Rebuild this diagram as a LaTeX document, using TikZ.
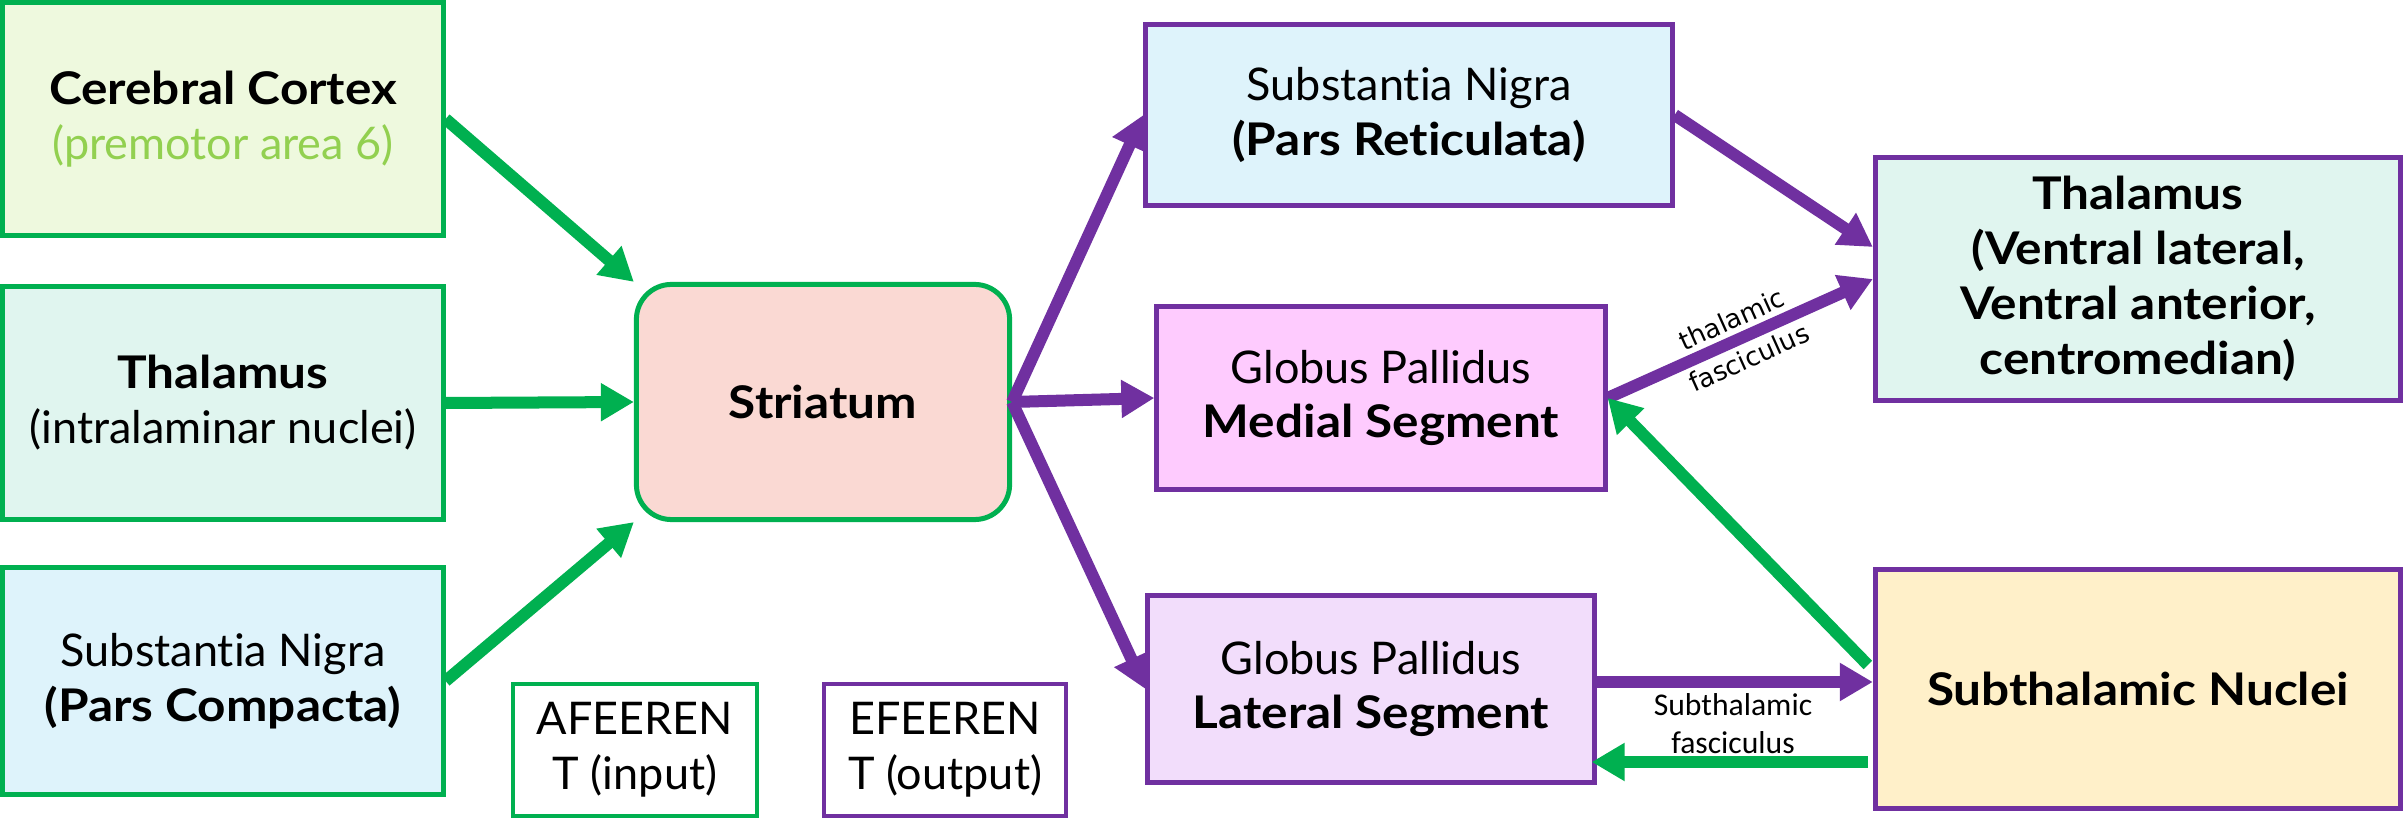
\documentclass[tikz,border=0pt]{standalone}
\usepackage{fontspec}
\setmainfont{Lato}[Ligatures=NoCommon, BoldFeatures={FakeStretch=1.1}]
\newfontfamily\dvs{DejaVu Sans}
\newfontfamily\carl{Carlito}
\usetikzlibrary{arrows.meta,calc}
\definecolor{gn}{HTML}{00B050}
\definecolor{pp}{HTML}{7030A0}
\definecolor{lg}{HTML}{92D050}
\definecolor{fctx}{HTML}{EEF9DE}
\definecolor{fthl}{HTML}{E0F5EF}
\definecolor{fsn}{HTML}{DEF3FB}
\definecolor{fstr}{HTML}{FAD9D3}
\definecolor{fgpm}{HTML}{FECBFE}
\definecolor{fgpl}{HTML}{F2DDFB}
\definecolor{fstn}{HTML}{FFF0C9}
\begin{document}
\begin{tikzpicture}[x=0.01cm,y=-0.01cm,
  box/.style={draw, line width=0.05cm, rectangle, inner sep=0pt, align=center,
    font=\fontsize{12.8}{15.6}\selectfont, text=black},
  gbox/.style={box, draw=gn},
  pbox/.style={box, draw=pp},
  garrow/.style={draw=gn, line width=0.12cm, -{Triangle[length=0.33cm,width=0.36cm]}},
  parrow/.style={draw=pp, line width=0.12cm, -{Triangle[length=0.33cm,width=0.36cm]}},
  lbl/.style={inner sep=1pt, align=center, text=black}
]
\useasboundingbox (0,0) rectangle (2405,822);
\fill[white] (0,0) rectangle (2405,822);

% left column (afferent)
\node[gbox, fill=fctx, minimum width=4.40cm, minimum height=2.32cm] (ctx) at (223,119)
  {\textbf{Cerebral Cortex}\\{\color{lg}(premotor area 6)}};
\node[gbox, fill=fthl, minimum width=4.40cm, minimum height=2.32cm] (thl) at (223,403)
  {\textbf{Thalamus}\\(intralaminar nuclei)};
\node[gbox, fill=fsn, minimum width=4.40cm, minimum height=2.27cm] (snc) at (223,681)
  {Substantia Nigra\\\textbf{(Pars Compacta)}};

% striatum
\node[gbox, fill=fstr, rounded corners=0.35cm, minimum width=3.73cm, minimum height=2.35cm] (str) at (823,402)
  {\textbf{Striatum}};

% legend
\node[gbox, line width=0.04cm, fill=white, minimum width=2.43cm, minimum height=1.31cm] (afr) at (635,750)
  {AFEEREN\\T (input)};
\node[pbox, line width=0.04cm, fill=white, minimum width=2.41cm, minimum height=1.31cm] (efr) at (945,750)
  {EFEEREN\\T (output)};

% middle column (efferent)
\node[pbox, fill=fsn, minimum width=5.26cm, minimum height=1.80cm] (snr) at (1409,115)
  {Substantia Nigra\\\textbf{(Pars Reticulata)}};
\node[pbox, fill=fgpm, minimum width=4.48cm, minimum height=1.83cm] (gpm) at (1381,398)
  {Globus Pallidus\\\textbf{Medial Segment}};
\node[pbox, fill=fgpl, minimum width=4.46cm, minimum height=1.87cm] (gpl) at (1371,689)
  {Globus Pallidus\\\textbf{Lateral Segment}};

% right column
\node[pbox, fill=fthl, minimum width=5.25cm, minimum height=2.43cm] (thr) at (2138,279)
  {\textbf{Thalamus}\\\textbf{(Ventral lateral,}\\\textbf{Ventral anterior,}\\\textbf{centromedian)}};
\node[pbox, fill=fstn, minimum width=5.25cm, minimum height=2.38cm] (stn) at (2138,689)
  {\textbf{Subthalamic Nuclei}};

% afferent arrows
\draw[garrow] (ctx.east) -- (str.north west);
\draw[garrow] (thl.east) -- (str.west);
\draw[garrow] (snc.east) -- (str.south west);

% efferent arrows
\draw[parrow] (str.east) -- (snr.west);
\draw[parrow] (str.east) -- (gpm.west);
\draw[parrow] (str.east) -- (gpl.west);
\draw[parrow] (snr.east) -- ($(thr.west)+(0,-32)$);
\draw[parrow] (gpm.east) -- node[lbl, sloped, pos=0.5, font=\dvs\fontsize{7.4}{12}\selectfont] {thalamic\\fasciculus} (thr.west);
\draw[garrow] ($(stn.west)+(-5,-24)$) -- (gpm.east);
\draw[parrow] ($(gpl.east)+(0,-7)$) -- ($(stn.west)+(0,-7)$);
\draw[garrow] ($(stn.west)+(-5,73)$) -- ($(gpl.east)+(-5,73)$);
\node[lbl, font=\carl\fontsize{9}{10.8}\selectfont] (sfl) at (1733,724) {Subthalamic\\fasciculus};
\end{tikzpicture}
\end{document}
